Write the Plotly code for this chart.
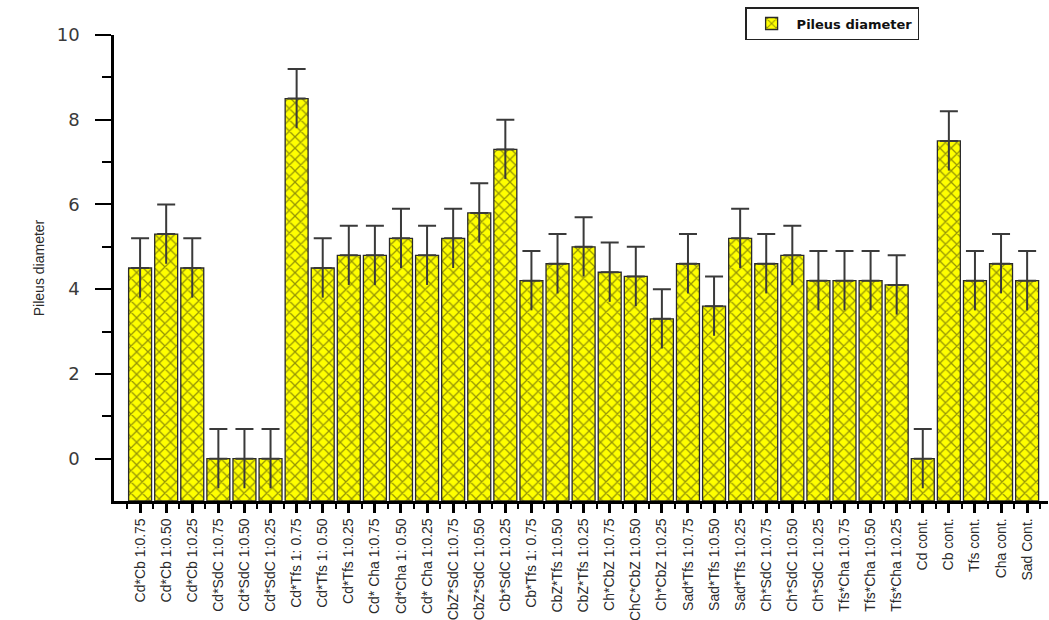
import plotly.graph_objects as go

# Treatment labels (x axis)
categories = [
    "Cd*Cb 1:0.75", "Cd*Cb 1:0.50", "Cd*Cb 1:0.25",
    "Cd*SdC 1:0.75", "Cd*SdC 1:0.50", "Cd*SdC 1:0.25",
    "Cd*Tfs 1: 0.75", "Cd*Tfs 1: 0.50", "Cd*Tfs 1:0.25",
    "Cd* Cha 1:0.75", "Cd*Cha 1: 0.50", "Cd* Cha 1:0.25",
    "CbZ*SdC 1:0.75", "CbZ*SdC 1:0.50", "Cb*SdC 1:0.25",
    "Cb*Tfs 1: 0.75", "CbZ*Tfs 1:0.50", "CbZ*Tfs 1:0.25",
    "Ch*CbZ 1:0.75", "ChC*CbZ 1:0.50", "Ch*CbZ 1:0.25",
    "Sad*Tfs 1:0.75", "Sad*Tfs 1:0.50", "Sad*Tfs 1:0.25",
    "Ch*SdC 1:0.75", "Ch*SdC 1:0.50", "Ch*SdC 1:0.25",
    "Tfs*Cha 1:0.75", "Tfs*Cha 1:0.50", "Tfs*Cha 1:0.25",
    "Cd cont.", "Cb cont.", "Tfs cont.", "Cha cont.", "Sad Cont.",
]

# Mean pileus diameter per treatment
pileus_diameter = [
    4.5, 5.3, 4.5,
    0.0, 0.0, 0.0,
    8.5, 4.5, 4.8,
    4.8, 5.2, 4.8,
    5.2, 5.8, 7.3,
    4.2, 4.6, 5.0,
    4.4, 4.3, 3.3,
    4.6, 3.6, 5.2,
    4.6, 4.8, 4.2,
    4.2, 4.2, 4.1,
    0.0, 7.5, 4.2, 4.6, 4.2,
]

# Error (standard deviation) per treatment
pileus_error = [0.7] * len(categories)

y_ticks = [0, 2, 4, 6, 8, 10]
y_minor_ticks = [1, 3, 5, 7, 9]

BASE = -1.0  # bars rise from the bottom of the value axis
n = len(categories)
x_pos = list(range(n))
heights = [v - BASE for v in pileus_diameter]

label_font = "Liberation Sans, Arial, sans-serif"

fig = go.Figure()

fig.add_trace(go.Bar(
    x=x_pos,
    y=heights,
    base=BASE,
    name="Pileus diameter",
    width=0.88,
    customdata=pileus_diameter,
    hovertemplate="%{customdata}<extra></extra>",
    marker=dict(
        color="#FFFF00",
        line=dict(color="#2a2a2a", width=1.3),
        pattern=dict(shape="x", fgcolor="#2a2a0c", bgcolor="#FFFF00",
                     size=8, solidity=0.3, fillmode="overlay"),
    ),
    error_y=dict(type="data", array=pileus_error, arrayminus=[0] * n,
                 color="#3a3a3a", thickness=2, width=9),
))

# Lower half of each error bar, drawn without a cap
fig.add_trace(go.Scatter(
    x=x_pos,
    y=pileus_diameter,
    mode="markers",
    marker=dict(size=0.1, color="rgba(0,0,0,0)"),
    showlegend=False,
    hoverinfo="skip",
    error_y=dict(type="data", array=[0] * n, arrayminus=pileus_error,
                 color="#3a3a3a", thickness=2, width=0),
))

fig.update_layout(
    width=1049, height=620,
    margin=dict(l=114, r=1, t=35, b=119),
    plot_bgcolor="white",
    paper_bgcolor="white",
    showlegend=True,
    legend=dict(
        x=0.862, y=1.06, xanchor="right", yanchor="top",
        bgcolor="white", bordercolor="#222222", borderwidth=1.5,
        font=dict(family="DejaVu Sans, Verdana, sans-serif", size=13, color="#111111",
                  weight="bold"),
        itemwidth=40,
        tracegroupgap=0,
    ),
    xaxis=dict(
        range=[-1.0, n - 1 + 0.8],
        automargin=False,
        tickmode="array",
        tickvals=x_pos,
        ticktext=categories,
        tickangle=-90,
        ticks="outside", ticklen=9, tickwidth=3, tickcolor="black",
        minor=dict(tickmode="array", tickvals=[i + 0.5 for i in range(-1, n)],
                   ticks="outside", ticklen=5, tickwidth=2, tickcolor="black"),
        showline=True, linecolor="black", linewidth=2.5,
        showgrid=False, zeroline=False,
        tickfont=dict(family=label_font, size=14, color="#2a2a2a"),
    ),
    yaxis=dict(
        range=[-1.0, 10],
        automargin=False,
        tickmode="array",
        tickvals=y_ticks,
        ticks="outside", ticklen=16, tickwidth=2, tickcolor="black",
        ticklabelstandoff=12,
        minor=dict(tickmode="array", tickvals=y_minor_ticks,
                   ticks="outside", ticklen=9, tickwidth=2, tickcolor="black"),
        showline=True, linecolor="black", linewidth=2.5,
        showgrid=False, zeroline=False,
        tickfont=dict(family="DejaVu Sans, Verdana, sans-serif", size=18, color="#3a3a3a"),
        title=dict(text="Pileus diameter", standoff=9,
                   font=dict(family=label_font, size=14, color="#2a2a2a")),
    ),
)

fig.write_html("out.html")
